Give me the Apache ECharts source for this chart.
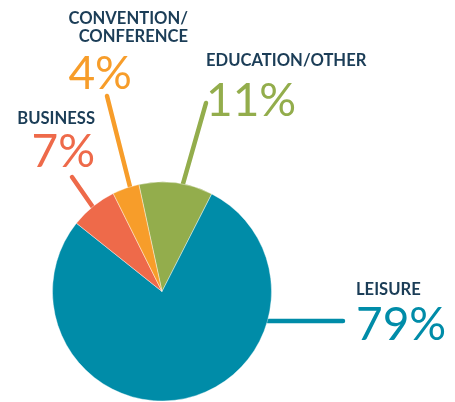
<!DOCTYPE html>
<html>
<head>
<meta charset="utf-8">
<script src="https://cdn.jsdelivr.net/npm/echarts@6/dist/echarts.min.js"></script>
<style>
  html, body { margin: 0; padding: 0; background: #fff; }
  #chart { width: 455px; height: 402px; }
</style>
</head>
<body>
<div id="chart"></div>
<script>
// purpose of visit, share in percent (clockwise from the top)
var categories = ['EDUCATION/OTHER', 'LEISURE', 'BUSINESS', 'CONVENTION/\nCONFERENCE'];
var shares = [11, 79, 7, 4];
var sliceColors = ['#93ad4c', '#008ca8', '#ee6a4a', '#f79d2a'];

var nameColor = '#1b3d57';
var pieCenter = [162, 291.5];
var pieRadius = 109.5;

// where each callout sits; lineAngle is degrees clockwise from 12 o'clock
var labelSpots = [
  { x: 206, y: 51, align: 'left', nameAlign: 'left', pctAlign: 'left', nameLH: 20, pctLH: 60, lineAngle: 11, lineEnd: [206, 103] },
  { x: 356, y: 280, align: 'left', nameAlign: 'left', pctAlign: 'left', nameLH: 20, pctLH: 51, lineAngle: 105.6, lineEnd: [343, 321] },
  { x: 95, y: 109, align: 'right', nameAlign: 'right', pctAlign: 'right', nameLH: 20, pctLH: 47, lineAngle: 320.7, lineEnd: [72, 177] },
  { x: 188, y: 9, align: 'right', nameAlign: 'right', pctAlign: 'left', nameLH: 18.5, pctLH: 56, lineAngle: 343, lineEnd: [107, 96] }
];

var chart = echarts.init(document.getElementById('chart'));

var data = categories.map(function (name, i) {
  var spot = labelSpots[i];
  var nameText = name.split('\n').map(function (s) { return '{n|' + s + '}'; }).join('\n');
  return {
    name: name,
    value: shares[i],
    itemStyle: { color: sliceColors[i] },
    label: {
      formatter: nameText + '\n{p|' + shares[i] + '%}',
      rich: {
        n: { fontFamily: 'Lato', fontWeight: 'bold', fontSize: 16.6, color: nameColor, lineHeight: spot.nameLH, align: spot.nameAlign },
        p: { fontFamily: 'Lato', fontWeight: 'normal', fontSize: 46, color: sliceColors[i], lineHeight: spot.pctLH, align: spot.pctAlign }
      }
    }
  };
});

var option = {
  animation: false,
  series: [
    {
      type: 'pie',
      center: pieCenter,
      radius: pieRadius,
      startAngle: 102.2,
      clockwise: true,
      avoidLabelOverlap: false,
      itemStyle: { borderColor: '#fff', borderWidth: 0.4 },
      label: { show: true, position: 'outside' },
      labelLine: { show: true, lineStyle: { width: 4.5, cap: 'round' } },
      labelLayout: function (params) {
        var spot = labelSpots[params.dataIndex];
        var a = spot.lineAngle * Math.PI / 180;
        var start = [pieCenter[0] + pieRadius * Math.sin(a), pieCenter[1] - pieRadius * Math.cos(a)];
        return {
          x: spot.x,
          y: spot.y,
          align: spot.align,
          verticalAlign: 'top',
          labelLinePoints: [start, spot.lineEnd]
        };
      },
      emphasis: { disabled: true },
      data: data
    }
  ]
};

chart.setOption(option);
</script>
</body>
</html>
